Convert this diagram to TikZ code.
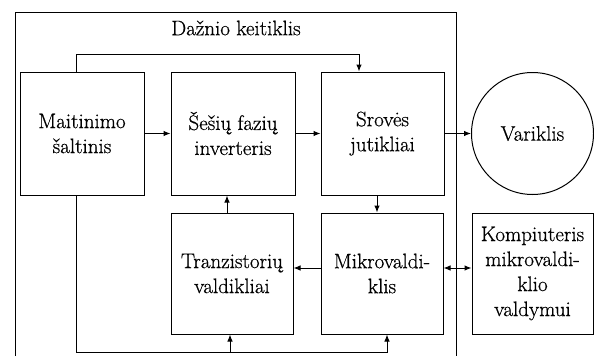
\documentclass[tikz,border=0pt]{standalone}
\usepackage{fontspec}
\newfontfamily\heavy{Latin Modern Roman}[FakeBold=0.6]
\usetikzlibrary{arrows.meta}
\begin{document}
\begin{tikzpicture}[x=1pt,y=-1pt,
  every node/.style={font=\heavy\fontsize{21}{25}\selectfont, align=center, inner sep=0pt},
  blk/.style={draw, line width=1pt, rectangle},
  ln/.style={line width=1pt},
  arr/.style={line width=1pt, -{Latex[length=7pt,width=5.5pt]}},
  darr/.style={line width=1pt, {Latex[length=7pt,width=5.5pt]}-{Latex[length=7pt,width=5.5pt]}}]
\useasboundingbox (0,0) rectangle (594,356);
% outer frame (open at bottom)
\draw[ln] (15,356) coordinate (fbl) -- (15,12) coordinate (ftl) -- (456,12) coordinate (ftr) -- (456,356) coordinate (fbr);
\node (title) at (236,28) {Dažnio keitiklis};
% blocks
\node[blk, minimum width=124pt, minimum height=123pt] (mait) at (82,133.5) {Maitinimo\\šaltinis};
\node[blk, minimum width=124pt, minimum height=123pt] (sesiu) at (233,133.5) {Šešių fazių\\inverteris};
\node[blk, minimum width=123pt, minimum height=123pt] (srov) at (382.5,133.5) {Srovės\\jutikliai};
\node[draw, line width=1pt, circle, minimum size=122pt] (var) at (532.5,133.5) {Variklis};
\node[blk, minimum width=122pt, minimum height=121pt] (tranz) at (232,273.5) {Tranzistorių\\valdikliai};
\node[blk, minimum width=122pt, minimum height=121pt] (mikro) at (382,273.5) {Mikrovaldi-\\klis};
\node[blk, minimum width=121pt, minimum height=121pt] (komp) at (532.5,273.5) {Kompiuteris\\mikrovaldi-\\klio\\valdymui};
% connectors
\draw[arr] (mait) -- (sesiu);
\draw[arr] (sesiu) -- (srov);
\draw[arr] (srov) -- (var);
\draw[arr] ([xshift=-6]mait.north) -- ++(0,-17) coordinate (topc) -| ([xshift=-23.5]srov.north);
\draw[arr] ([xshift=-5.5]srov.south) -- ([xshift=-5.5]srov.south |- mikro.north);
\draw[arr] ([xshift=-5]tranz.north) -- ([xshift=-5]tranz.north |- sesiu.south);
\draw[arr] ([yshift=5.5]mikro.west) -- ([yshift=5.5]mikro.west -| tranz.east);
\draw[darr] ([yshift=5.5]mikro.east) -- ([yshift=5.5]mikro.east -| komp.west);
\draw[arr] ([xshift=-6]mait.south) -- ++(0,157) coordinate (botc) -| ([xshift=5]mikro.south);
\draw[arr] ([xshift=-2]tranz.south |- botc) -- ([xshift=-2]tranz.south);
\end{tikzpicture}
\end{document}
